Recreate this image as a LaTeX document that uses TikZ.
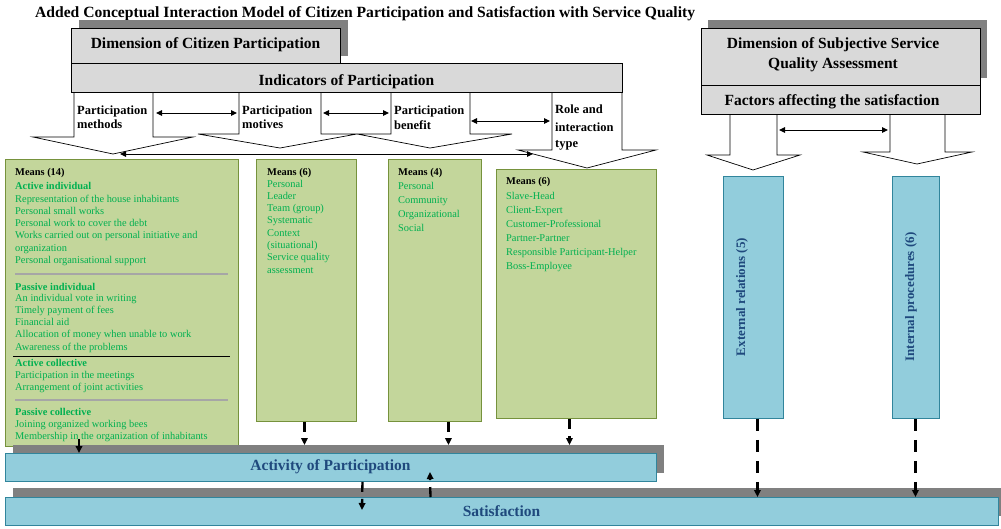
\documentclass[tikz,border=0pt]{standalone}
\usepackage{fontspec}
\setmainfont{Liberation Serif}
\usetikzlibrary{arrows.meta}
\definecolor{hdrgray}{HTML}{D9D9D9}
\definecolor{shadowgray}{HTML}{808080}
\definecolor{gfill}{HTML}{C3D69B}
\definecolor{gborder}{HTML}{76923C}
\definecolor{gtextc}{HTML}{00B050}
\definecolor{bfill}{HTML}{92CDDC}
\definecolor{bborder}{HTML}{31859C}
\definecolor{btext}{HTML}{1F497D}
\definecolor{sepgray}{HTML}{A6A6A6}
\begin{document}
\begin{tikzpicture}[x=1pt,y=-1pt,
  hdr/.style={draw=black, line width=0.7pt, fill=hdrgray, anchor=north west, inner sep=0pt},
  gbox/.style={draw=gborder, line width=0.9pt, fill=gfill, anchor=north west, inner sep=0pt},
  bbox/.style={draw=bborder, line width=0.9pt, fill=bfill, anchor=north west, inner sep=0pt},
  shadowbox/.style={fill=shadowgray, anchor=north west, inner sep=0pt},
  htitle/.style={font=\bfseries\fontsize{15.5}{18}\selectfont, inner sep=0pt, anchor=base},
  lbl/.style={font=\bfseries\fontsize{12.5}{14}\selectfont, inner sep=0pt, anchor=base west},
  gt/.style={font=\fontsize{10.4}{12}\selectfont, text=gtextc, inner sep=0pt, anchor=base west},
  gh/.style={gt, font=\bfseries\fontsize{10.4}{12}\selectfont},
  mh/.style={gh, text=black},
  bartext/.style={font=\bfseries\fontsize{15.5}{18}\selectfont, text=btext, inner sep=0pt},
  vtext/.style={font=\bfseries\fontsize{13}{15}\selectfont, text=btext, inner sep=0pt, rotate=90},
  blockarrow/.style={draw=black, line width=0.7pt, fill=white, line join=miter},
  dbl/.style={{Triangle[length=6pt,width=5.5pt]}-{Triangle[length=6pt,width=5.5pt]}, line width=1pt},
  dsh/.style={-{Triangle[length=7pt,width=6.5pt]}, line width=2.3pt, dash pattern=on 10pt off 7pt},
  dshl/.style={-{Triangle[length=7pt,width=6.5pt]}, line width=2.3pt, dash pattern=on 12pt off 9pt},
  sol/.style={-{Triangle[length=7pt,width=6.5pt]}, line width=2pt},
]
\useasboundingbox (0,0) rectangle (1001,528);

% title
\node[font=\bfseries\fontsize{15.6}{18}\selectfont, inner sep=0pt, anchor=base west] (title) at (35,17.5)
  {Added Conceptual Interaction Model of Citizen Participation and Satisfaction with Service Quality};

% ---------- left header ----------
\node[shadowbox, minimum width=269pt, minimum height=36pt] (dcpsh) at (79,20) {};
\node[hdr, minimum width=269pt, minimum height=35pt] (dcp) at (71,28) {};
\node[htitle] (dcpt) at (205.5,48) {Dimension of Citizen Participation};

% block arrows (left)
\draw[blockarrow] (74,92) -- (74,137) -- (33,137) -- (113,154) -- (193,137) -- (153,137) -- (153,92);
\draw[blockarrow] (239,92) -- (239,134) -- (198,134) -- (280,148) -- (357,134) -- (321,134) -- (321,92);
\draw[blockarrow] (391,92) -- (391,134) -- (357,134) -- (430,148) -- (512,134) -- (470,134) -- (470,92);
\draw[blockarrow] (552,92) -- (552,150) -- (518,150) -- (587,168) -- (656,150) -- (622,150) -- (622,92);

\node[hdr, minimum width=551pt, minimum height=29pt] (ind) at (71,63) {};
\node[htitle] (indt) at (346.5,85) {Indicators of Participation};

\node[lbl] (pm1) at (77,114) {Participation};
\node[lbl] (pm2) at (77,128) {methods};
\node[lbl] (pmo1) at (242,114) {Participation};
\node[lbl] (pmo2) at (242,128) {motives};
\node[lbl] (pb1) at (394,114) {Participation};
\node[lbl] (pb2) at (394,129) {benefit};
\node[lbl] (ri1) at (555,113) {Role and};
\node[lbl] (ri2) at (555,131) {interaction};
\node[lbl] (ri3) at (555,147) {type};

\coordinate (s1r) at (156,113);
\coordinate (s2l) at (237,113);
\coordinate (s2r) at (323,113);
\coordinate (s3l) at (389,113);
\coordinate (s3r) at (471,121);
\coordinate (s4l) at (550,121);
\draw[dbl] (s1r) -- (s2l);
\draw[dbl] (s2r) -- (s3l);
\draw[dbl] (s3r) -- (s4l);
\coordinate (tip1) at (120,154);
\coordinate (wing4) at (533,154);
\draw[dbl] (tip1) -- (wing4);

% ---------- right header ----------
\node[shadowbox, minimum width=279pt, minimum height=58pt] (dsqsh) at (708,20) {};
\draw[blockarrow] (730,114) -- (730,155) -- (707,155) -- (753,170) -- (800,155) -- (777,155) -- (777,114);
\draw[blockarrow] (890,114) -- (890,152) -- (863,152) -- (917,164) -- (972,152) -- (945,152) -- (945,114);
\node[hdr, minimum width=279pt, minimum height=57pt] (dsq) at (701,28) {};
\node[htitle] (dsqt1) at (833,48) {Dimension of Subjective Service};
\node[htitle] (dsqt2) at (833,68) {Quality Assessment};
\node[hdr, minimum width=279pt, minimum height=29pt] (fac) at (701,85) {};
\node[htitle] (fact) at (832,105) {Factors affecting the satisfaction};
\coordinate (fa1) at (779,130);
\coordinate (fa2) at (888,130);
\draw[dbl] (fa1) -- (fa2);

% ---------- green boxes ----------
\node[gbox, minimum width=233pt, minimum height=287pt] (g1) at (5,159) {};
\node[gbox, minimum width=100pt, minimum height=262pt] (g2) at (256,159) {};
\node[gbox, minimum width=93pt, minimum height=262pt] (g3) at (388,159) {};
\node[gbox, minimum width=160pt, minimum height=249pt] (g4) at (496,169) {};

% box 1 text
\node[mh] (g1h) at (15,175) {Means (14)};
\node[gh] (g1a) at (15,189) {Active individual};
\foreach \t [count=\i] in {Representation of the house inhabitants, Personal small works, Personal work to cover the debt, Works carried out on personal initiative and, organization, Personal organisational support}
  \node[gt] (g1a\i) at (15,{202+12.3*(\i-1)}) {\t};
\coordinate (sepa1) at (15,274);
\coordinate (sepa2) at (228,274);
\draw[sepgray, line width=1.6pt] (sepa1) -- (sepa2);
\node[gh] (g1b) at (15,290) {Passive individual};
\foreach \t [count=\i] in {An individual vote in writing, Timely payment of fees, Financial aid, Allocation of money when unable to work, Awareness of the problems}
  \node[gt] (g1b\i) at (15,{301+12.25*(\i-1)}) {\t};
\coordinate (sepb1) at (13,356);
\coordinate (sepb2) at (230,356);
\draw[black, line width=0.8pt] (sepb1) -- (sepb2);
\node[gh] (g1c) at (15,366) {Active collective};
\foreach \t [count=\i] in {Participation in the meetings, Arrangement of joint activities}
  \node[gt] (g1c\i) at (15,{378+12.25*(\i-1)}) {\t};
\coordinate (sepc1) at (15,400);
\coordinate (sepc2) at (228,400);
\draw[sepgray, line width=1.6pt] (sepc1) -- (sepc2);
\node[gh] (g1d) at (15,415) {Passive collective};
\foreach \t [count=\i] in {Joining organized working bees, Membership in the organization of inhabitants}
  \node[gt] (g1d\i) at (15,{427+12.25*(\i-1)}) {\t};

% box 2 text
\node[mh] (g2h) at (267,175) {Means (6)};
\foreach \t [count=\i] in {Personal, Leader, Team (group), Systematic, Context, (situational), Service quality, assessment}
  \node[gt] (g2l\i) at (267,{187+12.3*(\i-1)}) {\t};

% box 3 text
\node[mh] (g3h) at (398,175) {Means (4)};
\foreach \t [count=\i] in {Personal, Community, Organizational, Social}
  \node[gt] (g3l\i) at (398,{189+14*(\i-1)}) {\t};

% box 4 text
\node[mh] (g4h) at (506,184) {Means (6)};
\foreach \t [count=\i] in {Slave-Head, Client-Expert, Customer-Professional, Partner-Partner, Responsible Participant-Helper, Boss-Employee}
  \node[gt] (g4l\i) at (506,{199+14*(\i-1)}) {\t};

% ---------- blue boxes ----------
\node[bbox, minimum width=60pt, minimum height=242pt] (ext) at (723,176) {};
\node[vtext] (extt) at (742,297) {External relations (5)};
\node[bbox, minimum width=47pt, minimum height=242pt] (int) at (892,176) {};
\node[vtext] (intt) at (911,297) {Internal procedures (6)};

% ---------- bars ----------
\node[shadowbox, minimum width=651pt, minimum height=28pt] (actsh) at (13,445) {};
\node[bbox, minimum width=651pt, minimum height=28pt] (act) at (5,453) {};
\node[bartext] (actt) at (330.5,467) {Activity of Participation};
\node[shadowbox, minimum width=988pt, minimum height=28pt] (satsh) at (13,488) {};
\node[bbox, minimum width=993pt, minimum height=28pt] (sat) at (5,497) {};
\node[bartext] (satt) at (501.5,511) {Satisfaction};

% ---------- connectors ----------
\coordinate (c1a) at (79,439);
\draw[sol] (c1a) -- (c1a |- act.north);
\coordinate (c2a) at ([xshift=-2pt]g2.south);
\draw[dsh] (c2a) -- (c2a |- actsh.north);
\coordinate (c3a) at ([xshift=13.5pt]g3.south);
\draw[dsh] (c3a) -- (c3a |- actsh.north);
\coordinate (c4a) at ([xshift=-7pt]g4.south);
\draw[dsh] (c4a) -- (c4a |- actsh.north);
\coordinate (c5a) at ([xshift=31.5pt]act.south);
\coordinate (c5b) at (362,510);
\draw[dsh] (c5a) -- (c5b);
\coordinate (c6a) at ([xshift=-71.5pt]sat.north);
\coordinate (c6b) at (430,472);
\draw[dsh] (c6a) -- (c6b);
\coordinate (c7a) at ([xshift=4pt]ext.south);
\draw[dshl] (c7a) -- (c7a |- sat.north);
\coordinate (c8a) at ([xshift=-0.5pt]int.south);
\draw[dshl] (c8a) -- (c8a |- sat.north);
\end{tikzpicture}
\end{document}
